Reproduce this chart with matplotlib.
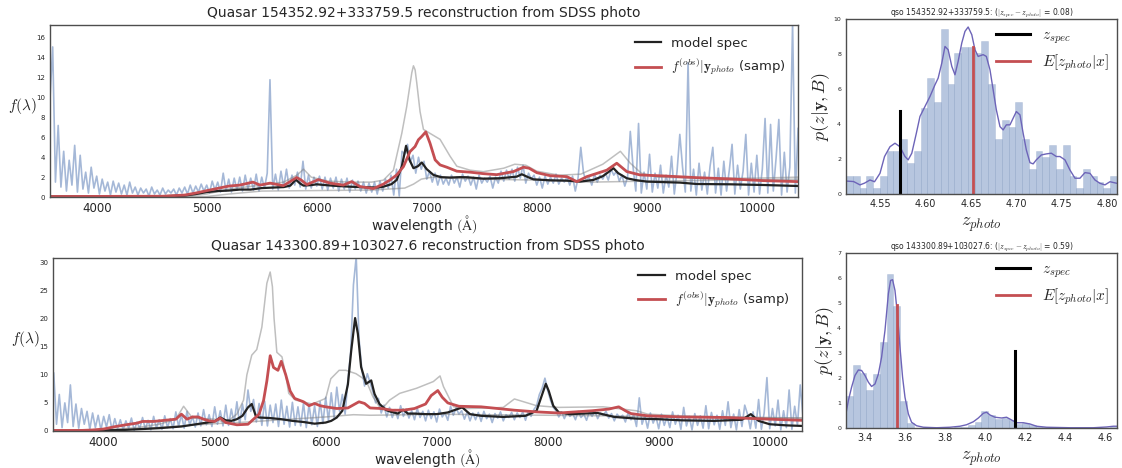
"""Two SDSS quasars: spectrum reconstructed from photometry (left) and the
photometric redshift posterior (right)."""

import numpy as np
import matplotlib

matplotlib.use("Agg")
import matplotlib.pyplot as plt

plt.rcParams.update({
    "font.family": ["DejaVu Sans"],
    "mathtext.fontset": "cm",
    "axes.edgecolor": ".3",
    "axes.linewidth": 1.0,
    "text.color": ".15",
    "axes.labelcolor": ".15",
    "xtick.color": ".15",
    "ytick.color": ".15",
    "xtick.major.size": 0,
    "ytick.major.size": 0,
    "legend.frameon": False,
})

BLUE = "#4c72b0"
RED = "#c44e52"
KDE = "#6d64b8"

# ---------------------------------------------------------------- quasar 1
QSO1 = "154352.92+333759.5"
QSO1_XLIM = (3576, 10375)
QSO1_YLIM = (0, 17.3)
QSO1_OBS_START, QSO1_OBS_STEP = 3575, 25
QSO1_OBS = [
    9.8, 15.1, 1.5, 7.2, 1.0, 4.6, 0.6, 3.7,
    1.2, 5.2, 0.5, 4.2, 0.8, 2.5, 0.4, 3.0,
    0.9, 2.1, 0.3, 1.8, 0.6, 1.5, 0.2, 1.6,
    0.5, 1.4, 0.3, 1.2, 0.2, 1.5, 0.4, 1.0,
    0.2, 0.9, 0.4, 0.8, 0.1, 1.0, 0.3, 0.7,
    0.2, 0.9, 0.3, 0.7, 0.4, 0.8, 0.2, 0.9,
    0.4, 1.0, 0.3, 1.2, 0.4, 1.1, 0.5, 1.3,
    0.6, 1.2, 0.4, 1.6, 0.7, 1.5, 0.5, 2.4,
    0.6, 1.8, 0.5, 1.9, 0.7, 2.0, 0.6, 2.2,
    0.8, 1.9, 0.7, 2.3, 0.6, 2.0, 0.9, 2.4,
    11.8, 0.8, 2.3, 0.7, 2.6, 1.0, 2.8, 0.9,
    2.2, 1.2, 2.5, 1.0, 3.6, 0.8, 2.2, 0.9,
    2.0, 1.1, 2.1, 0.8, 2.0, 0.7, 1.9, 0.9,
    2.0, 0.6, 1.8, 0.8, 1.9, 0.5, 1.7, 0.8,
    1.6, 0.6, 1.5, 0.4, 1.4, 0.5, 1.5, 0.3,
    1.6, 0.6, 1.8, 0.9, 2.2, 0.2, 2.8, 0.1,
    4.6, 4.3, 5.3, 3.5, 4.2, 2.4, 4.0, 2.8,
    3.6, 1.8, 2.6, 1.5, 2.4, 1.2, 2.2, 1.3,
    1.9, 1.2, 2.2, 1.4, 2.0, 1.0, 2.3, 1.6,
    2.1, 1.2, 2.0, 0.8, 2.2, 1.4, 1.9, 1.5,
    2.1, 0.9, 2.0, 1.4, 2.6, 1.6, 2.7, 1.8,
    2.8, 1.6, 3.0, 1.9, 3.2, 1.4, 2.4, 1.8,
    2.2, 1.2, 2.0, 0.9, 2.1, 1.3, 2.0, 1.4,
    2.3, 1.3, 1.9, 1.5, 2.0, 1.2, 2.1, 0.6,
    1.9, 5.0, 2.4, 1.6, 2.0, 1.2, 2.3, 1.5,
    2.2, 1.8, 2.4, 1.7, 2.8, 2.2, 2.6, 1.6,
    2.2, 1.1, 2.0, 6.6, 3.0, 0.6, 7.4, 0.4,
    2.5, 0.8, 4.3, 0.5, 2.4, 0.9, 3.2, 0.4,
    2.2, 1.0, 4.1, 0.3, 2.6, 6.3, 3.0, 0.5,
    13.5, 0.6, 2.8, 0.2, 3.4, 0.7, 2.5, 0.3,
    3.1, 5.0, 0.4, 2.9, 0.2, 3.6, 0.6, 2.7,
    5.3, 0.3, 3.2, 0.8, 2.6, 6.3, 0.2, 3.4,
    0.5, 4.2, 0.3, 2.8, 7.9, 0.4, 7.3, 0.6,
    3.9, 7.8, 0.2, 4.5, 0.5, 3.0, 17.5, 0.4,
    6.9,
]
QSO1_MODEL_LAM = [3576, 4500, 4800, 4900, 5000, 5100, 5200, 5300, 5400, 5500,
                  5600, 5700, 5760, 5810, 5850, 5880, 5950, 6000, 6080, 6150,
                  6300, 6450, 6550, 6606, 6680, 6727, 6773, 6812, 6843, 6879,
                  6920, 6955, 7000, 7061, 7130, 7212, 7300, 7364, 7515, 7667,
                  7818, 7864, 7920, 7970, 8121, 8273, 8394, 8515, 8600, 8650,
                  8697, 8740, 8818, 8900, 9000, 9303, 9455, 9758, 10061, 10375]
QSO1_MODEL_F = [0.05, 0.05, 0.15, 0.3, 0.5, 0.6, 0.65, 0.75, 0.75, 0.9,
                0.95, 1.0, 1.15, 1.75, 1.35, 1.15, 1.2, 1.28, 1.2, 1.14,
                1.04, 0.98, 0.95, 1.04, 1.3, 1.72, 3.06, 5.15, 3.74, 2.9,
                3.1, 3.47, 2.8, 2.22, 2.0, 1.96, 2.0, 1.99, 1.85, 1.89,
                2.05, 2.29, 2.0, 1.78, 1.68, 1.65, 1.55, 1.72, 2.1, 2.5,
                2.9, 2.4, 1.89, 1.7, 1.55, 1.45, 1.31, 1.28, 1.21, 1.11]
QSO1_SAMP_LAM = [3576, 4600, 4800, 4900, 5000, 5100, 5200, 5300, 5420, 5485,
                 5576, 5697, 5818, 5860, 5909, 6015, 6121, 6242, 6318, 6394,
                 6515, 6606, 6667, 6727, 6788, 6848, 6894, 6924, 6955, 6991,
                 7030, 7076, 7121, 7182, 7273, 7394, 7515, 7636, 7788, 7880,
                 7930, 8000, 8121, 8273, 8364, 8455, 8636, 8727, 8818, 8939,
                 9152, 9455, 9758, 10061, 10375]
QSO1_SAMP_F = [0.05, 0.08, 0.2, 0.4, 0.64, 0.87, 1.1, 1.2, 1.5, 1.2,
               1.4, 1.14, 1.96, 1.7, 1.25, 1.75, 1.4, 1.2, 1.55, 1.05,
               0.85, 1.3, 1.72, 2.22, 3.06, 4.57, 5.08, 5.76, 6.1, 6.55,
               5.4, 3.74, 3.23, 3.0, 2.6, 2.5, 2.35, 2.25, 2.56, 3.0,
               2.9, 2.45, 2.15, 2.05, 1.55, 2.05, 2.7, 3.4, 2.56, 2.22,
               2.12, 1.95, 1.82, 1.65, 1.55]
QSO1_GREY_A_LAM = [3576, 4800, 5000, 5200, 5500, 5700, 5820, 5880, 5950, 6100,
                   6300, 6500, 6606, 6697, 6773, 6818, 6864, 6879, 6894, 6909,
                   6939, 6970, 7030, 7121, 7212, 7273, 7394, 7515, 7700, 7800,
                   7900, 8000, 8200, 8400, 8600, 8760, 8850, 8950, 9100, 9500,
                   10000, 10375]
QSO1_GREY_A_F = [0.05, 0.08, 0.3, 0.8, 1.2, 1.5, 2.2, 2.8, 2.0, 1.6,
                 1.5, 1.5, 1.7, 2.7, 6.4, 9.1, 12.5, 13.2, 12.8, 11.5,
                 8.6, 6.8, 6.4, 5.8, 4.1, 3.1, 2.7, 2.55, 2.9, 3.3,
                 3.2, 2.6, 2.2, 2.3, 3.3, 4.6, 3.4, 2.4, 2.0, 1.9,
                 1.9, 2.0]
QSO1_GREY_B_LAM = [3576, 5000, 5200, 5500, 6000, 6500, 6800, 6880, 6950, 7050,
                   7200, 7500, 8000, 8500, 9000, 10375]
QSO1_GREY_B_F = [0.02, 0.05, 0.3, 0.6, 0.65, 0.7, 0.9, 1.3, 1.8, 2.0,
                 1.9, 1.8, 1.7, 1.5, 1.6, 1.8]

QSO1_Z_RANGE = (4.5126, 4.8107)
QSO1_HIST = [1.05, 1.05, 0.35, 1.05, 0.35, 1.05, 2.45, 2.45, 3.15, 1.75,
             2.45, 4.9, 6.65, 5.25, 9.45, 6.3, 8.05, 8.4, 8.4, 8.05,
             8.75, 6.3, 3.15, 4.2, 3.85, 5.25, 3.15, 1.4, 2.45, 2.1,
             2.8, 1.4, 2.8, 1.05, 0.35, 1.4, 1.05, 0.7, 0.35, 1.05]
QSO1_KDE_Z = [4.5126, 4.521, 4.528, 4.533, 4.539, 4.544, 4.55, 4.555, 4.561, 4.5665,
              4.572, 4.5775, 4.581, 4.585, 4.59, 4.594, 4.5995, 4.605, 4.6105, 4.614,
              4.618, 4.6215, 4.625, 4.629, 4.6325, 4.636, 4.64, 4.6435, 4.647, 4.651,
              4.6545, 4.658, 4.6635, 4.667, 4.671, 4.6745, 4.678, 4.682, 4.6855, 4.689,
              4.693, 4.6965, 4.70, 4.704, 4.7075, 4.711, 4.715, 4.7185, 4.722, 4.7275,
              4.733, 4.7385, 4.744, 4.748, 4.7535, 4.759, 4.7645, 4.77, 4.7755, 4.781,
              4.7865, 4.792, 4.7975, 4.803, 4.8107]
QSO1_KDE_P = [0.74, 0.71, 0.52, 0.62, 0.8, 0.7, 1.18, 2.14, 2.7, 2.9,
              2.7, 2.14, 1.95, 2.33, 3.47, 4.43, 5.0, 5.57, 6.24, 6.62,
              7.48, 8.43, 8.24, 7.29, 6.81, 7.58, 8.63, 9.29, 9.54, 9.1,
              8.24, 7.86, 7.96, 7.86, 7.1, 5.95, 4.81, 3.85, 3.66, 3.95,
              3.95, 4.33, 4.71, 4.52, 3.47, 2.52, 1.79, 1.72, 1.95, 2.23,
              2.29, 2.33, 2.14, 2.14, 1.95, 1.37, 0.9, 0.9, 1.22, 1.18,
              0.8, 0.61, 0.52, 0.7, 0.61]
QSO1_ZSPEC, QSO1_ZSPEC_H = 4.572, 4.75
QSO1_ZMEAN, QSO1_ZMEAN_H = 4.652, 8.4
QSO1_ZYLIM = (0, 10)
QSO1_ZTICKS = [4.55, 4.60, 4.65, 4.70, 4.75, 4.80]

# ---------------------------------------------------------------- quasar 2
QSO2 = "143300.89+103027.6"
QSO2_XLIM = (3543, 10291)
QSO2_YLIM = (0, 30.8)
QSO2_OBS_START, QSO2_OBS_STEP = 3550, 25
QSO2_OBS = [
    10.3, 1.2, 6.5, 0.6, 5.0, 1.5, 8.2, 0.8,
    4.8, 0.5, 4.0, 1.2, 3.5, 0.3, 3.2, 0.6,
    2.8, 0.2, 2.6, 0.7, 2.9, 0.1, 2.2, 0.4,
    2.0, 0.2, 1.8, 0.5, 2.3, 0.1, 1.6, 0.4,
    2.4, 0.3, 1.9, 0.2, 2.6, 0.5, 2.0, 0.3,
    2.7, 0.6, 2.2, 0.4, 3.4, 0.8, 2.9, 0.5,
    3.5, 1.0, 2.6, 0.7, 3.2, 0.9, 3.8, 1.1,
    2.9, 0.8, 4.3, 1.2, 3.6, 0.9, 4.6, 1.0,
    3.9, 1.4, 5.2, 1.1, 4.8, 2.0, 7.3, 3.5,
    5.6, 1.6, 4.9, 1.0, 5.3, 0.9, 4.6, 1.5,
    4.8, 0.8, 5.5, 1.2, 4.4, 0.7, 5.1, 1.0,
    4.3, 0.9, 5.0, 0.6, 4.7, 1.1, 4.5, 0.8,
    5.2, 1.3, 6.0, 1.8, 6.8, 2.4, 7.8, 3.5,
    6.5, 3.0, 9.0, 14.0, 26.0, 31.0, 16.5, 11.0,
    8.0, 10.2, 8.6, 7.0, 5.0, 5.8, 3.2, 4.6,
    2.5, 4.2, 2.4, 3.8, 2.2, 4.5, 2.6, 3.9,
    2.3, 3.6, 2.0, 4.0, 2.4, 3.5, 1.8, 3.7,
    2.2, 3.4, 1.6, 3.9, 2.5, 3.2, 1.9, 4.4,
    2.8, 4.1, 3.0, 3.6, 2.1, 3.4, 1.8, 3.2,
    2.0, 3.3, 1.7, 3.5, 2.2, 3.0, 1.5, 3.1,
    2.3, 3.4, 1.8, 2.9, 2.4, 3.3, 2.0, 3.2,
    2.4, 3.4, 1.9, 3.6, 2.6, 3.8, 4.5, 6.5,
    7.6, 9.4, 7.2, 5.5, 4.2, 3.6, 2.5, 3.4,
    2.2, 3.3, 2.6, 3.1, 2.0, 3.5, 2.4, 3.0,
    1.9, 3.4, 2.6, 3.6, 2.2, 3.2, 2.8, 3.5,
    2.3, 3.1, 1.8, 3.0, 2.4, 2.8, 1.6, 3.3,
    2.0, 2.9, 0.8, 5.9, 1.2, 2.7, 0.5, 3.2,
    1.4, 2.6, 0.4, 3.0, 1.0, 2.5, 0.6, 3.4,
    1.2, 2.8, 0.3, 4.2, 0.9, 2.6, 0.2, 3.1,
    1.0, 2.7, 0.5, 4.5, 0.4, 3.3, 1.1, 2.8,
    0.3, 3.6, 1.0, 5.2, 0.6, 3.0, 0.2, 3.8,
    0.8, 4.6, 3.0, 0.4, 3.4, 0.5, 5.6, 0.3,
    3.2, 9.5, 0.4, 4.0, 0.9, 5.5, 0.2, 3.6,
    0.6, 7.3, 0.3, 4.4, 1.0, 8.2, 2.5,
]
QSO2_MODEL_LAM = [3543, 4000, 4200, 4500, 4700, 4900, 5000, 5050, 5100, 5150,
                  5200, 5250, 5300, 5334, 5370, 5400, 5500, 5600, 5700, 5800,
                  5900, 6000, 6050, 6100, 6150, 6200, 6230, 6265, 6290, 6319,
                  6364, 6410, 6440, 6485, 6546, 6591, 6650, 6697, 6740, 6800,
                  6900, 7000, 7100, 7230, 7300, 7400, 7600, 7800, 7900, 7950,
                  7983, 8010, 8050, 8100, 8200, 8450, 8600, 8800, 9000, 9200,
                  9500, 9750, 9830, 9900, 10000, 10150, 10291]
QSO2_MODEL_F = [0.05, 0.1, 0.2, 0.5, 0.8, 1.4, 1.7, 2.4, 1.9, 1.8,
                2.1, 2.7, 4.2, 4.8, 2.7, 2.4, 2.3, 2.1, 1.8, 1.6,
                1.3, 1.5, 1.8, 2.4, 3.6, 8.3, 14.3, 20.1, 17.3, 11.4,
                8.4, 9.0, 6.6, 4.8, 3.7, 3.4, 3.1, 3.8, 3.1, 3.1,
                3.0, 3.0, 3.3, 4.2, 3.0, 2.7, 2.5, 2.7, 3.6, 6.5,
                8.4, 7.1, 4.5, 3.3, 3.0, 3.2, 2.5, 2.2, 2.1, 1.9,
                1.8, 2.0, 3.0, 1.8, 1.2, 1.0, 0.9]
QSO2_SAMP_LAM = [3543, 3800, 3900, 4000, 4100, 4200, 4300, 4350, 4450, 4550,
                 4650, 4700, 4750, 4800, 4850, 4900, 4950, 5000, 5050, 5100,
                 5200, 5300, 5350, 5400, 5440, 5470, 5500, 5530, 5570, 5600,
                 5640, 5680, 5720, 5800, 5850, 5900, 5950, 6000, 6100, 6200,
                 6300, 6350, 6400, 6500, 6600, 6700, 6800, 6900, 6950, 7010,
                 7050, 7100, 7200, 7400, 7500, 7700, 7900, 8100, 8400, 8550,
                 8640, 8700, 8750, 8900, 9200, 9600, 10000, 10291]
QSO2_SAMP_F = [0.1, 0.1, 0.18, 0.35, 0.77, 1.1, 1.4, 1.7, 1.7, 1.9,
               2.1, 3.0, 2.1, 2.5, 2.5, 2.1, 1.8, 1.7, 2.3, 1.5,
               1.1, 1.2, 2.1, 3.0, 5.4, 8.9, 13.4, 11.3, 10.8, 12.4,
               10.0, 7.1, 5.8, 5.2, 4.5, 4.9, 4.5, 4.3, 4.0, 4.1,
               5.2, 4.9, 4.1, 4.0, 3.7, 3.7, 4.0, 4.8, 6.3, 7.2,
               6.0, 5.0, 4.4, 4.3, 4.1, 3.7, 3.4, 3.2, 3.6, 3.9,
               4.3, 3.6, 3.1, 2.7, 2.5, 2.4, 2.1, 1.9]
QSO2_GREY_A_LAM = [3543, 4000, 4300, 4500, 4650, 4720, 4800, 4900, 5000, 5100,
                   5200, 5260, 5290, 5334, 5379, 5425, 5470, 5500, 5520, 5535,
                   5560, 5606, 5640, 5667, 5727, 5879, 6000, 6046, 6121, 6182,
                   6273, 6364, 6425, 6500, 6576, 6667, 6818, 6970, 7030, 7061,
                   7152, 7273, 7500, 7600, 7700, 7800, 7900, 8100, 8500, 8800,
                   8900, 9200, 9600, 10000, 10291]
QSO2_GREY_A_F = [0.05, 0.2, 0.6, 1.2, 2.1, 4.4, 2.3, 2.2, 2.1, 1.5,
                 3.0, 5.5, 10.0, 13.5, 14.5, 18.5, 26.3, 28.3, 25.7, 20.0,
                 14.0, 13.2, 10.0, 6.7, 5.5, 4.8, 5.8, 9.3, 10.8, 10.8,
                 10.2, 9.0, 6.1, 3.8, 5.5, 6.7, 7.6, 8.8, 9.8, 7.9,
                 4.3, 4.0, 4.1, 4.2, 5.7, 5.1, 4.5, 4.2, 4.3, 3.6,
                 3.0, 2.7, 2.5, 2.4, 2.3]
QSO2_GREY_B_LAM = [3543, 4000, 4300, 4700, 5000, 5300, 5600, 6000, 6250, 6400,
                   6800, 7000, 7400, 8000, 8500, 9000, 9600, 10291]
QSO2_GREY_B_F = [0.02, 0.1, 0.4, 0.9, 1.3, 1.6, 2.0, 2.5, 2.9, 2.8,
                 2.9, 3.0, 2.9, 2.8, 2.7, 2.5, 2.4, 2.3]

QSO2_Z_RANGE = (3.305, 4.66)
QSO2_HIST = [1.29, 2.5, 2.19, 1.52, 2.16, 3.43, 6.17, 4.89, 1.09, 0.21,
             0.0, 0.0, 0.0, 0.0, 0.0, 0.0, 0.05, 0.05, 0.1, 0.25,
             0.67, 0.52, 0.35, 0.4, 0.3, 0.17, 0.2, 0.12, 0.05, 0.05,
             0.0, 0.0, 0.0, 0.0, 0.0, 0.0, 0.0, 0.0, 0.0, 0.05]
QSO2_KDE_Z = [3.303, 3.317, 3.333, 3.35, 3.367, 3.383, 3.4, 3.417, 3.433, 3.45,
              3.467, 3.483, 3.5, 3.517, 3.528, 3.538, 3.55, 3.562, 3.575, 3.588,
              3.6, 3.617, 3.633, 3.658, 3.692, 3.758, 3.825, 3.875, 3.908, 3.942,
              3.967, 3.992, 4.008, 4.025, 4.05, 4.083, 4.108, 4.133, 4.158, 4.192,
              4.225, 4.258, 4.308, 4.425, 4.542, 4.608, 4.642, 4.66]
QSO2_KDE_P = [0.49, 1.1, 1.63, 2.1, 2.32, 2.3, 2.1, 1.83, 1.66, 1.76,
              2.16, 2.83, 3.9, 5.37, 5.9, 5.93, 5.5, 4.57, 3.23, 2.03,
              1.23, 0.56, 0.23, 0.09, 0.03, 0.01, 0.03, 0.07, 0.13, 0.25,
              0.4, 0.59, 0.63, 0.52, 0.43, 0.4, 0.43, 0.32, 0.21, 0.21,
              0.16, 0.07, 0.03, 0.01, 0.01, 0.04, 0.07, 0.07]
QSO2_ZSPEC, QSO2_ZSPEC_H = 4.15, 3.07
QSO2_ZMEAN, QSO2_ZMEAN_H = 3.558, 4.9
QSO2_ZYLIM = (0, 7)
QSO2_ZTICKS = [3.4, 3.6, 3.8, 4.0, 4.2, 4.4, 4.6]


def plot_spectrum(ax, name, obs_start, obs_step, obs, greys, model, samp,
                  xlim, ylim, yticks):
    obs_lam = obs_start + obs_step * np.arange(len(obs))
    ax.plot(obs_lam, obs, color=BLUE, alpha=0.5, lw=1.2)
    for lam, f in greys:
        ax.plot(lam, f, color="grey", alpha=0.5, lw=1.1)
    ax.plot(*model, color="#222222", lw=1.6, label="model spec")
    ax.plot(*samp, color=RED, lw=2.0,
            label=r"$f^{(obs)} | \mathbf{y}_{photo}$ (samp)")
    ax.set_xlim(*xlim)
    ax.set_ylim(*ylim)
    ax.set_yticks(yticks)
    ax.set_xticks(range(4000, 10001, 1000))
    ax.tick_params(axis="x", labelsize=8.5)
    ax.tick_params(axis="y", labelsize=5)
    ax.set_xlabel(r"wavelength $(\mathrm{\AA})$", fontsize=10, labelpad=-1)
    ax.set_ylabel(r"$f(\lambda)$", fontsize=11, rotation=0, va="center")
    ax.yaxis.set_label_coords(-0.037, 0.53)
    ax.set_title(f"Quasar {name} reconstruction from SDSS photo", fontsize=10)
    ax.legend(loc="upper right", fontsize=9.5)


def plot_zhist(ax, name, zrange, hist, kde, zspec, zmean, ylim, xticks):
    edges = np.linspace(zrange[0], zrange[1], len(hist) + 1)
    ax.bar(edges[:-1], hist, width=np.diff(edges), align="edge",
           color=BLUE, alpha=0.4, edgecolor="#8fa3c6", linewidth=0.5)
    ax.plot(*kde, color=KDE, lw=1.0)
    ax.plot([zspec[0]] * 2, [0, zspec[1]], color="black", lw=2.2,
            label=r"$z_{spec}$")
    ax.plot([zmean[0]] * 2, [0, zmean[1]], color=RED, lw=2.0,
            label=r"$E[z_{photo}|x]$")
    ax.set_xlim(*zrange)
    ax.set_ylim(*ylim)
    ax.set_xticks(xticks)
    ax.tick_params(axis="x", labelsize=7)
    ax.tick_params(axis="y", labelsize=4.5)
    ax.set_xlabel(r"$z_{photo}$", fontsize=13, labelpad=5)
    ax.set_ylabel(r"$p(z | \mathbf{y}, B)$", fontsize=13, labelpad=1)
    dz = abs(zspec[0] - zmean[0])
    ax.set_title(f"qso {name}: ($|z_{{spec}} - z_{{photo}}|$ = {dz:.2f})",
                 fontsize=5.5, pad=3)
    ax.legend(loc="upper right", fontsize=11, handlelength=2.2,
              labelspacing=0.4, borderaxespad=0.15)


def main():
    fig = plt.figure(figsize=(11.22, 4.68), dpi=100)
    ax_s1 = fig.add_axes([0.0446, 0.579, 0.6667, 0.3675])
    ax_s2 = fig.add_axes([0.0472, 0.0791, 0.6676, 0.3697])
    ax_z1 = fig.add_axes([0.754, 0.5855, 0.2415, 0.374])
    ax_z2 = fig.add_axes([0.754, 0.0855, 0.2415, 0.374])

    plot_spectrum(ax_s1, QSO1, QSO1_OBS_START, QSO1_OBS_STEP, QSO1_OBS,
                  [(QSO1_GREY_A_LAM, QSO1_GREY_A_F), (QSO1_GREY_B_LAM, QSO1_GREY_B_F)],
                  (QSO1_MODEL_LAM, QSO1_MODEL_F), (QSO1_SAMP_LAM, QSO1_SAMP_F),
                  QSO1_XLIM, QSO1_YLIM, range(0, 17, 2))
    plot_spectrum(ax_s2, QSO2, QSO2_OBS_START, QSO2_OBS_STEP, QSO2_OBS,
                  [(QSO2_GREY_A_LAM, QSO2_GREY_A_F), (QSO2_GREY_B_LAM, QSO2_GREY_B_F)],
                  (QSO2_MODEL_LAM, QSO2_MODEL_F), (QSO2_SAMP_LAM, QSO2_SAMP_F),
                  QSO2_XLIM, QSO2_YLIM, range(0, 31, 5))

    plot_zhist(ax_z1, QSO1, QSO1_Z_RANGE, QSO1_HIST, (QSO1_KDE_Z, QSO1_KDE_P),
               (QSO1_ZSPEC, QSO1_ZSPEC_H), (QSO1_ZMEAN, QSO1_ZMEAN_H),
               QSO1_ZYLIM, QSO1_ZTICKS)
    plot_zhist(ax_z2, QSO2, QSO2_Z_RANGE, QSO2_HIST, (QSO2_KDE_Z, QSO2_KDE_P),
               (QSO2_ZSPEC, QSO2_ZSPEC_H), (QSO2_ZMEAN, QSO2_ZMEAN_H),
               QSO2_ZYLIM, QSO2_ZTICKS)

    fig.savefig("out.png", dpi=100)
    plt.close(fig)


if __name__ == "__main__":
    main()
